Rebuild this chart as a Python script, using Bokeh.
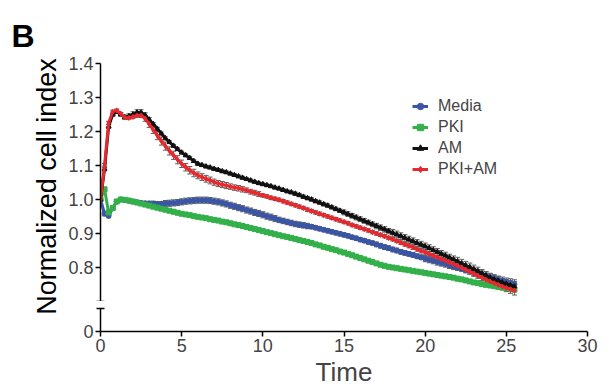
import math
from bokeh.plotting import figure
from bokeh.layouts import column, row
from bokeh.models import (Range1d, FixedTicker, PrintfTickFormatter, Whisker, TeeHead,
                          ColumnDataSource, Legend, LegendItem, Label)
from bokeh.embed import file_html
from bokeh.resources import INLINE

# sampling grid: every 0.25 h from 0 to 25.5 h
time_h = [i * 0.25 for i in range(103)]

media = [
    1.000, 0.958, 0.952, 0.974,
    0.994, 1.000, 0.998, 0.996,
    0.994, 0.992, 0.990, 0.989,
    0.988, 0.988, 0.987, 0.987,
    0.988, 0.989, 0.990, 0.991,
    0.993, 0.995, 0.996, 0.997,
    0.998, 0.998, 0.998, 0.997,
    0.995, 0.993, 0.990, 0.987,
    0.983, 0.980, 0.976, 0.973,
    0.969, 0.966, 0.962, 0.959,
    0.955, 0.951, 0.948, 0.944,
    0.940, 0.937, 0.934, 0.931,
    0.928, 0.926, 0.924, 0.922,
    0.920, 0.917, 0.914, 0.911,
    0.908, 0.905, 0.902, 0.899,
    0.896, 0.893, 0.889, 0.886,
    0.882, 0.879, 0.875, 0.872,
    0.868, 0.864, 0.860, 0.857,
    0.853, 0.850, 0.846, 0.843,
    0.840, 0.837, 0.833, 0.830,
    0.826, 0.823, 0.820, 0.816,
    0.813, 0.810, 0.806, 0.803,
    0.800, 0.797, 0.793, 0.790,
    0.787, 0.783, 0.779, 0.776,
    0.772, 0.768, 0.764, 0.761,
    0.757, 0.754, 0.751,
]
media_err = [
    0.002, 0.006, 0.006, 0.005,
    0.004, 0.004, 0.004, 0.004,
    0.005, 0.005, 0.005, 0.005,
    0.007, 0.007, 0.007, 0.007,
    0.009, 0.009, 0.009, 0.009,
    0.009, 0.009, 0.009, 0.009,
    0.009, 0.009, 0.009, 0.009,
    0.009, 0.009, 0.009, 0.009,
    0.009, 0.009, 0.009, 0.009,
    0.009, 0.009, 0.009, 0.009,
    0.009, 0.009, 0.009, 0.009,
    0.008, 0.008, 0.008, 0.008,
    0.008, 0.008, 0.008, 0.008,
    0.006, 0.006, 0.006, 0.006,
    0.006, 0.006, 0.006, 0.006,
    0.006, 0.006, 0.006, 0.006,
    0.006, 0.006, 0.006, 0.006,
    0.007, 0.007, 0.007, 0.007,
    0.007, 0.007, 0.007, 0.007,
    0.007, 0.007, 0.007, 0.007,
    0.009, 0.009, 0.009, 0.009,
    0.009, 0.009, 0.009, 0.009,
    0.009, 0.009, 0.009, 0.009,
    0.011, 0.011, 0.011, 0.011,
    0.011, 0.011, 0.011, 0.011,
    0.012, 0.013, 0.013,
]

pki = [
    1.000, 1.030, 0.962, 0.975,
    0.994, 1.000, 0.999, 0.997,
    0.994, 0.991, 0.988, 0.985,
    0.982, 0.979, 0.976, 0.973,
    0.970, 0.967, 0.964, 0.961,
    0.958, 0.956, 0.954, 0.951,
    0.949, 0.947, 0.945, 0.942,
    0.940, 0.938, 0.935, 0.933,
    0.930, 0.927, 0.925, 0.922,
    0.919, 0.916, 0.913, 0.910,
    0.907, 0.904, 0.901, 0.898,
    0.895, 0.892, 0.890, 0.887,
    0.884, 0.881, 0.878, 0.875,
    0.872, 0.868, 0.865, 0.861,
    0.858, 0.854, 0.851, 0.847,
    0.844, 0.840, 0.836, 0.832,
    0.828, 0.824, 0.820, 0.816,
    0.812, 0.808, 0.805, 0.802,
    0.800, 0.798, 0.796, 0.794,
    0.792, 0.790, 0.788, 0.786,
    0.784, 0.782, 0.780, 0.778,
    0.776, 0.774, 0.772, 0.770,
    0.767, 0.765, 0.762, 0.759,
    0.756, 0.754, 0.751, 0.749,
    0.747, 0.745, 0.743, 0.741,
    0.739, 0.737, 0.735,
]
pki_err = [
    0.002, 0.005, 0.005, 0.004,
    0.004, 0.004, 0.004, 0.004,
    0.004, 0.004, 0.004, 0.004,
    0.004, 0.004, 0.004, 0.004,
    0.004, 0.004, 0.004, 0.004,
    0.004, 0.004, 0.004, 0.004,
    0.004, 0.004, 0.004, 0.004,
    0.004, 0.004, 0.004, 0.004,
    0.004, 0.004, 0.004, 0.004,
    0.004, 0.004, 0.004, 0.004,
    0.004, 0.004, 0.004, 0.004,
    0.004, 0.004, 0.004, 0.004,
    0.004, 0.004, 0.004, 0.004,
    0.004, 0.004, 0.004, 0.004,
    0.004, 0.004, 0.004, 0.004,
    0.004, 0.004, 0.004, 0.004,
    0.004, 0.004, 0.004, 0.004,
    0.004, 0.004, 0.004, 0.004,
    0.004, 0.004, 0.004, 0.004,
    0.004, 0.004, 0.004, 0.004,
    0.005, 0.005, 0.005, 0.005,
    0.005, 0.005, 0.005, 0.005,
    0.005, 0.005, 0.005, 0.005,
    0.005, 0.005, 0.005, 0.005,
    0.005, 0.005, 0.005, 0.005,
    0.006, 0.006, 0.006,
]

am = [
    1.000, 1.090, 1.215, 1.250,
    1.258, 1.250, 1.242, 1.245,
    1.250, 1.256, 1.256, 1.248,
    1.235, 1.222, 1.208, 1.194,
    1.180, 1.169, 1.158, 1.148,
    1.138, 1.130, 1.122, 1.113,
    1.105, 1.101, 1.097, 1.094,
    1.090, 1.087, 1.083, 1.080,
    1.076, 1.072, 1.068, 1.064,
    1.060, 1.056, 1.052, 1.048,
    1.045, 1.042, 1.039, 1.035,
    1.032, 1.028, 1.024, 1.021,
    1.017, 1.013, 1.008, 1.004,
    1.000, 0.995, 0.991, 0.986,
    0.982, 0.977, 0.972, 0.967,
    0.962, 0.957, 0.952, 0.947,
    0.942, 0.937, 0.932, 0.927,
    0.922, 0.917, 0.912, 0.907,
    0.902, 0.897, 0.892, 0.887,
    0.882, 0.877, 0.872, 0.867,
    0.862, 0.857, 0.851, 0.846,
    0.840, 0.835, 0.829, 0.824,
    0.818, 0.812, 0.806, 0.801,
    0.795, 0.789, 0.782, 0.776,
    0.770, 0.765, 0.761, 0.756,
    0.752, 0.748, 0.744,
]
am_err = [
    0.002, 0.006, 0.006, 0.005,
    0.005, 0.005, 0.006, 0.007,
    0.008, 0.008, 0.008, 0.007,
    0.006, 0.004, 0.004, 0.004,
    0.004, 0.004, 0.004, 0.004,
    0.004, 0.004, 0.004, 0.004,
    0.004, 0.004, 0.004, 0.004,
    0.004, 0.004, 0.004, 0.004,
    0.004, 0.004, 0.004, 0.004,
    0.004, 0.004, 0.004, 0.004,
    0.004, 0.004, 0.004, 0.004,
    0.004, 0.004, 0.004, 0.004,
    0.005, 0.005, 0.005, 0.005,
    0.005, 0.005, 0.005, 0.005,
    0.005, 0.005, 0.005, 0.005,
    0.007, 0.007, 0.007, 0.007,
    0.007, 0.007, 0.007, 0.007,
    0.008, 0.008, 0.008, 0.008,
    0.010, 0.010, 0.010, 0.010,
    0.010, 0.010, 0.010, 0.010,
    0.010, 0.010, 0.010, 0.010,
    0.010, 0.010, 0.010, 0.010,
    0.012, 0.012, 0.012, 0.012,
    0.012, 0.012, 0.012, 0.012,
    0.012, 0.012, 0.012, 0.012,
    0.013, 0.014, 0.015,
]

pki_am = [
    1.000, 1.100, 1.225, 1.258,
    1.262, 1.252, 1.241, 1.240,
    1.243, 1.247, 1.247, 1.238,
    1.222, 1.205, 1.188, 1.172,
    1.157, 1.143, 1.130, 1.117,
    1.105, 1.095, 1.086, 1.078,
    1.071, 1.066, 1.061, 1.056,
    1.051, 1.047, 1.044, 1.041,
    1.038, 1.035, 1.033, 1.030,
    1.027, 1.023, 1.020, 1.016,
    1.012, 1.009, 1.005, 1.002,
    0.999, 0.995, 0.991, 0.987,
    0.983, 0.979, 0.975, 0.970,
    0.966, 0.962, 0.958, 0.954,
    0.950, 0.946, 0.942, 0.938,
    0.934, 0.930, 0.925, 0.921,
    0.917, 0.913, 0.909, 0.904,
    0.900, 0.896, 0.892, 0.887,
    0.883, 0.878, 0.873, 0.868,
    0.864, 0.859, 0.854, 0.849,
    0.845, 0.840, 0.835, 0.830,
    0.825, 0.820, 0.815, 0.810,
    0.805, 0.800, 0.794, 0.788,
    0.782, 0.776, 0.770, 0.764,
    0.759, 0.754, 0.749, 0.744,
    0.740, 0.736, 0.732,
]
pki_am_err = [
    0.002, 0.006, 0.005, 0.005,
    0.004, 0.004, 0.004, 0.004,
    0.005, 0.005, 0.006, 0.008,
    0.010, 0.011, 0.012, 0.012,
    0.012, 0.012, 0.012, 0.012,
    0.011, 0.011, 0.011, 0.011,
    0.010, 0.010, 0.010, 0.010,
    0.009, 0.009, 0.009, 0.009,
    0.008, 0.008, 0.008, 0.008,
    0.007, 0.007, 0.007, 0.007,
    0.005, 0.005, 0.005, 0.005,
    0.005, 0.005, 0.005, 0.005,
    0.005, 0.005, 0.005, 0.005,
    0.005, 0.005, 0.005, 0.005,
    0.005, 0.005, 0.005, 0.005,
    0.005, 0.005, 0.005, 0.005,
    0.005, 0.005, 0.005, 0.005,
    0.005, 0.005, 0.005, 0.005,
    0.005, 0.005, 0.005, 0.005,
    0.006, 0.006, 0.006, 0.006,
    0.006, 0.006, 0.006, 0.006,
    0.006, 0.006, 0.006, 0.006,
    0.008, 0.008, 0.008, 0.008,
    0.008, 0.008, 0.008, 0.008,
    0.010, 0.010, 0.010, 0.010,
    0.011, 0.012, 0.013,
]

series_names = ["Media", "PKI", "AM", "PKI+AM"]
series_values = [media, pki, am, pki_am]
series_errors = [media_err, pki_err, am_err, pki_am_err]
series_colors = ["#3a55a5", "#33b04a", "#111111", "#e8282d"]
series_markers = ["circle", "square", "triangle", "diamond"]

x_ticks = [0, 5, 10, 15, 20, 25, 30]
y_ticks_upper = [0.8, 0.9, 1.0, 1.1, 1.2, 1.3, 1.4]
y_break_upper = 0.7
y_ticks_lower = [0]

FONT = "Liberation Sans"
ERR_COLOR = "#5e5e5e"
LABEL_W = 60          # width of the strip holding the panel letter and y title
LEFT = 40
RIGHT = 20
FRAME_W = 487
TOP_H = 63 + 238
BOT_H = 7 + 23 + 56
TOTAL_H = TOP_H + BOT_H

x_range = Range1d(0, 30)

# ---------- left strip: panel letter + y-axis title ----------
lf = figure(width=LABEL_W, height=TOTAL_H, x_range=Range1d(0, 1), y_range=Range1d(0, 1),
            output_backend="svg", toolbar_location=None,
            x_axis_location=None, y_axis_location=None,
            min_border=0, min_border_left=0, min_border_right=0,
            min_border_top=0, min_border_bottom=0)
lf.outline_line_color = None
lf.grid.visible = False
lf.add_layout(Label(x=11, y=TOTAL_H - 35, x_units="screen", y_units="screen", text="B",
                    text_font=FONT, text_font_size="32px", text_font_style="bold",
                    text_baseline="alphabetic", text_align="left", text_color="black"))
lf.add_layout(Label(x=46, y=TOTAL_H - 186, x_units="screen", y_units="screen",
                    text="Normalized cell index", angle=math.pi / 2,
                    text_font=FONT, text_font_size="27px",
                    text_align="center", text_baseline="middle", text_color="black"))

# ---------- upper panel (0.7 - 1.4) ----------
p = figure(frame_width=FRAME_W, frame_height=238, x_range=x_range,
           y_range=Range1d(y_break_upper, 1.4), output_backend="svg",
           toolbar_location=None, x_axis_location=None,
           min_border_left=LEFT, min_border_right=RIGHT,
           min_border_top=63, min_border_bottom=0)
p.outline_line_color = None
p.grid.visible = False
p.background_fill_color = "white"

yax = p.yaxis[0]
yax.ticker = FixedTicker(ticks=y_ticks_upper, minor_ticks=[y_break_upper])
yax.formatter = PrintfTickFormatter(format="%.1f")
yax.major_label_text_font = FONT
yax.major_label_text_font_size = "18px"
yax.major_label_standoff = 2
yax.axis_line_width = 1.5
yax.major_tick_line_width = 1.5
yax.major_tick_in = 0
yax.major_tick_out = 5
yax.minor_tick_line_width = 1.5
yax.minor_tick_in = 4
yax.minor_tick_out = 4

items = []
for name, vals, errs, color, marker in zip(series_names, series_values, series_errors,
                                           series_colors, series_markers):
    src = ColumnDataSource(dict(
        t=time_h, v=vals,
        lo=[v - e for v, e in zip(vals, errs)],
        hi=[v + e for v, e in zip(vals, errs)],
    ))
    w = Whisker(source=src, base="t", lower="lo", upper="hi",
                line_color=ERR_COLOR, line_width=1,
                upper_head=TeeHead(size=5, line_color=ERR_COLOR, line_width=1),
                lower_head=TeeHead(size=5, line_color=ERR_COLOR, line_width=1))
    p.add_layout(w)
    r_line = p.line("t", "v", source=src, line_color=color, line_width=3)
    r_pts = p.scatter("t", "v", source=src, marker=marker, size=5,
                      fill_color=color, line_color=color)
    items.append(LegendItem(label=name, renderers=[r_line, r_pts]))

legend = Legend(items=items, location=(312, 123), padding=0, margin=0,
                border_line_color=None, background_fill_alpha=0,
                label_text_font=FONT, label_text_font_size="16px",
                glyph_width=16, glyph_height=18, label_height=18,
                spacing=3, label_standoff=10)
p.add_layout(legend)

# ---------- lower panel (0) ----------
q = figure(frame_width=FRAME_W, frame_height=23, x_range=x_range,
           y_range=Range1d(0, 1), output_backend="svg", toolbar_location=None,
           min_border_left=LEFT, min_border_right=RIGHT,
           min_border_top=7, min_border_bottom=56)
q.outline_line_color = None
q.grid.visible = False

qy = q.yaxis[0]
qy.ticker = FixedTicker(ticks=y_ticks_lower, minor_ticks=[1])
qy.major_label_text_font = FONT
qy.major_label_text_font_size = "18px"
qy.major_label_standoff = 2
qy.axis_line_width = 1.5
qy.major_tick_line_width = 1.5
qy.major_tick_in = 0
qy.major_tick_out = 5
qy.minor_tick_line_width = 1.5
qy.minor_tick_in = 4
qy.minor_tick_out = 4

qx = q.xaxis[0]
qx.ticker = FixedTicker(ticks=x_ticks)
qx.axis_label = "Time"
qx.axis_label_text_font = FONT
qx.axis_label_text_font_size = "26px"
qx.axis_label_text_font_style = "normal"
qx.axis_label_standoff = 2
qx.major_label_text_font = FONT
qx.major_label_text_font_size = "18px"
qx.major_label_standoff = 2
qx.axis_line_width = 1.5
qx.major_tick_line_width = 1.5
qx.major_tick_in = 0
qx.major_tick_out = 5
qx.minor_tick_line_color = None

layout = row(lf, column(p, q, spacing=0), spacing=0)
open("out.html", "w").write(file_html(layout, INLINE))
